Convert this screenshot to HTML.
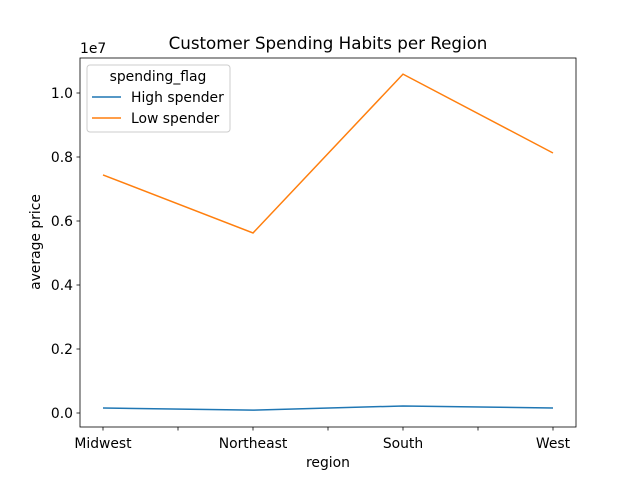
<!DOCTYPE html>
<html><head><meta charset="utf-8"><style>
body{margin:0;background:#fff;font-family:"Liberation Sans","DejaVu Sans",sans-serif;}
svg text{font-family:"DejaVu Sans","Liberation Sans",sans-serif;}
</style></head><body>
<svg id="chart" width="640" height="480">
<rect width="640" height="480" fill="#fff"/>
<text x="328" y="49" font-size="16.7" text-anchor="middle">Customer Spending Habits per Region</text>
<g id="axes"></g>
<g id="series"></g>
<rect x="80" y="58" width="496" height="369" fill="none" stroke="#000" stroke-width="0.8"/>
<text x="80" y="53" font-size="13.9">1e7</text>
<text x="328" y="467" font-size="13.9" text-anchor="middle">region</text>
<text transform="translate(40,242) rotate(-90)" font-size="13.9" text-anchor="middle">average price</text>
<g>
<rect x="87" y="65" width="143" height="67" rx="3" fill="#fff" fill-opacity="0.8" stroke="#ccc"/>
<text x="158" y="81" font-size="13.9" text-anchor="middle">spending_flag</text>
<line x1="92" y1="97" x2="121" y2="97" stroke="#1f77b4" stroke-width="1.5"/>
<text x="131" y="102" font-size="13.9">High spender</text>
<line x1="92" y1="118" x2="121" y2="118" stroke="#ff7f0e" stroke-width="1.5"/>
<text x="131" y="123" font-size="13.9">Low spender</text>
</g>
</svg>
<script>
const categories=["Midwest","Northeast","South","West"];
const highSpender=[0.0156,0.009,0.022,0.0156];
const lowSpender=[0.744,0.5625,1.059,0.8125];
const yTicks=[0.0,0.2,0.4,0.6,0.8,1.0];
const yTickLabels=["0.0","0.2","0.4","0.6","0.8","1.0"];
const NS="http://www.w3.org/2000/svg";
function xs(i){return 103+i*150;}
function ys(v){return 413-v*320;}
const axes=document.getElementById('axes');
const series=document.getElementById('series');
function mk(tag,attrs,parent){const e=document.createElementNS(NS,tag);for(const k in attrs)e.setAttribute(k,attrs[k]);parent.appendChild(e);return e;}
yTicks.forEach((v,i)=>{
  const y=ys(v);
  const t=mk('line',{x1:76.5,x2:80,y1:y,y2:y,stroke:'#000','stroke-width':0.8},axes);
  
  
  const l=mk('text',{x:73,y:y+5,'font-size':13.9,'text-anchor':'end'},axes);
  l.textContent=yTickLabels[i];
  
  
});
for(let h=0;h<=(categories.length-1)*2;h++){
  const x=xs(h/2);
  const t=mk('line',{x1:x,x2:x,y1:427,y2:430.5,stroke:'#000','stroke-width':0.8},axes);
  
  
}
categories.forEach((c,i)=>{
  const l=mk('text',{x:xs(i),y:448,'font-size':13.9,'text-anchor':'middle'},axes);
  l.textContent=c;
  
  
});
function line(vals,color,name){
  const p=mk('polyline',{points:vals.map((v,i)=>xs(i)+','+ys(v)).join(' '),fill:'none',stroke:color,'stroke-width':1.5},series);
  
  
}
line(highSpender,'#1f77b4','high-spender-line');
line(lowSpender,'#ff7f0e','low-spender-line');
</script>
</body></html>
